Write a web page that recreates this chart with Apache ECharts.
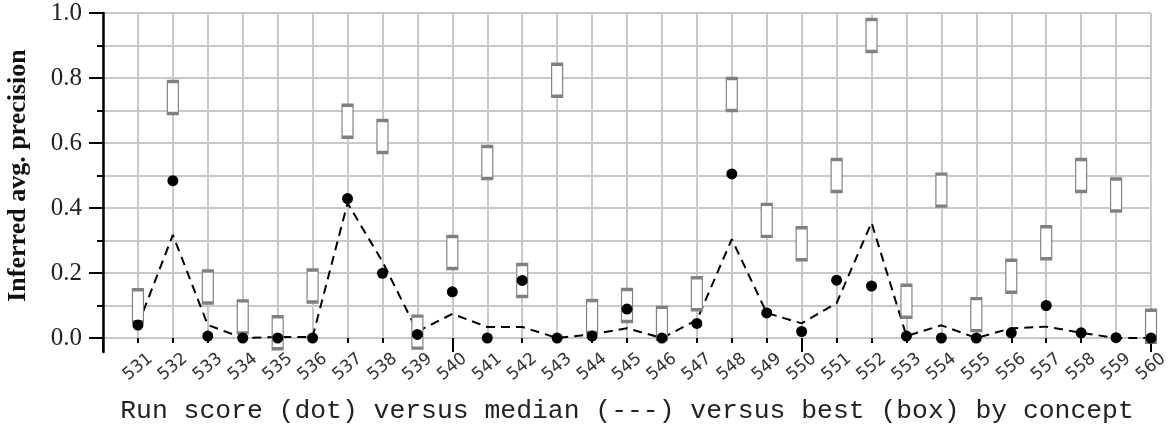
<!DOCTYPE html>
<html>
<head>
<meta charset="utf-8">
<script src="https://cdn.jsdelivr.net/npm/echarts@6/dist/echarts.min.js"></script>
<style>
html,body{margin:0;padding:0;background:#fff;}
#chart{width:1169px;height:431px;}
</style>
</head>
<body>
<div id="chart"></div>
<script>
// Concept ids (x axis categories)
var concepts = [531,532,533,534,535,536,537,538,539,540,541,542,543,544,545,546,547,548,549,550,551,552,553,554,555,556,557,558,559,560];
// Run score (dot)
var runScore = [0.040,0.484,0.006,0.000,0.000,0.000,0.429,0.199,0.011,0.142,0.000,0.177,0.000,0.006,0.089,0.000,0.045,0.505,0.077,0.020,0.178,0.160,0.006,0.000,0.000,0.016,0.100,0.016,0.001,0.000];
// Median (dashed line)
var medianScore = [0.040,0.317,0.040,0.000,0.003,0.003,0.415,0.235,0.020,0.074,0.034,0.034,0.000,0.011,0.030,0.000,0.055,0.304,0.077,0.045,0.107,0.355,0.006,0.039,0.000,0.030,0.035,0.016,0.000,0.000];
// Best (box centre)
var bestScore = [0.099,0.740,0.157,0.065,0.016,0.160,0.667,0.620,0.018,0.263,0.540,0.177,0.793,0.066,0.100,0.045,0.136,0.749,0.362,0.290,0.500,0.931,0.113,0.455,0.072,0.190,0.293,0.500,0.440,0.036];
// Tick labels
var yTickValues = [0.0,0.2,0.4,0.6,0.8,1.0];

function pairs(vals){ return concepts.map(function(c,i){ return [c, vals[i]]; }); }

var chart = echarts.init(document.getElementById('chart'), null, {renderer:'canvas'});
var gridColor = '#c8c8c8';
chart.setOption({
  animation: false,
  backgroundColor: '#ffffff',
  grid: [
    {left:103, right:18, top:13, bottom:93, outerBoundsMode:'none', containLabel:false},
    {left:103, right:18, top:13, bottom:79, outerBoundsMode:'none', containLabel:false}
  ],
  xAxis: [
    {
      gridIndex:0, type:'value', position:'bottom', min:530, max:560, interval:1,
      axisLine:{show:false},
      axisTick:{show:true, length:5, lineStyle:{color:'#000', width:2}},
      splitLine:{show:true, lineStyle:{color:gridColor, width:2}},
      axisLabel:{
        show:true, rotate:40, margin:29, align:'center', verticalAlign:'middle',
        fontFamily:'DejaVu Sans', fontSize:17, color:'#333',
        hideOverlap:false,
        formatter:function(v){ return concepts.indexOf(v) >= 0 ? String(v) : ''; }
      },
      name:'Run score (dot) versus median (---) versus best (box) by concept',
      nameLocation:'middle', nameGap:60, nameMoveOverlap:false,
      nameTextStyle:{fontFamily:'Liberation Mono', fontSize:26.4, color:'#222'}
    },
    {
      gridIndex:0, type:'value', position:'bottom', min:530, max:560, interval:10,
      axisLine:{show:false},
      axisTick:{show:true, length:14, lineStyle:{color:'#000', width:2}},
      splitLine:{show:false},
      axisLabel:{show:false}
    },
    {
      gridIndex:1, type:'value', min:0, max:1, show:false
    }
  ],
  yAxis: [
    {
      gridIndex:0, type:'value', min:0, max:1, interval:0.2,
      axisLine:{show:false},
      axisTick:{show:true, length:14, lineStyle:{color:'#000', width:2}},
      minorTick:{show:true, splitNumber:2, length:6, lineStyle:{color:'#000', width:2}},
      splitLine:{show:true, lineStyle:{color:gridColor, width:2}},
      minorSplitLine:{show:true, lineStyle:{color:gridColor, width:2}},
      axisLabel:{
        margin:21, fontFamily:'Liberation Serif', fontSize:25, color:'#222',
        formatter:function(v){
          for (var i=0;i<yTickValues.length;i++){ if (Math.abs(yTickValues[i]-v)<1e-9) return yTickValues[i].toFixed(1); }
          return '';
        }
      },
      name:'Inferred avg. precision', nameLocation:'middle', nameGap:72, nameMoveOverlap:false,
      nameTextStyle:{fontFamily:'Liberation Serif', fontWeight:'bold', fontSize:26, color:'#111'}
    },
    {
      gridIndex:1, type:'value', min:0, max:1,
      axisLine:{show:true, lineStyle:{color:'#000', width:2.5}},
      axisTick:{show:false}, axisLabel:{show:false}, splitLine:{show:false}
    }
  ],
  series: [
    {
      name:'median', type:'line', xAxisIndex:0, yAxisIndex:0,
      data: pairs(medianScore), symbol:'none', z:2,
      lineStyle:{color:'#000', width:2, type:[9,6], opacity:1}
    },
    {
      name:'best', type:'scatter', xAxisIndex:0, yAxisIndex:0,
      data: pairs(bestScore), symbol:'rect', symbolSize:[11,32], clip:false, z:3,
      itemStyle:{color:'#ffffff', borderColor:'#808080', borderWidth:2, opacity:1}
    },
    {
      name:'run', type:'scatter', xAxisIndex:0, yAxisIndex:0,
      data: pairs(runScore), symbol:'circle', symbolSize:11, clip:false, z:4,
      itemStyle:{color:'#000', opacity:1}
    }
  ]
});
</script>
</body>
</html>
